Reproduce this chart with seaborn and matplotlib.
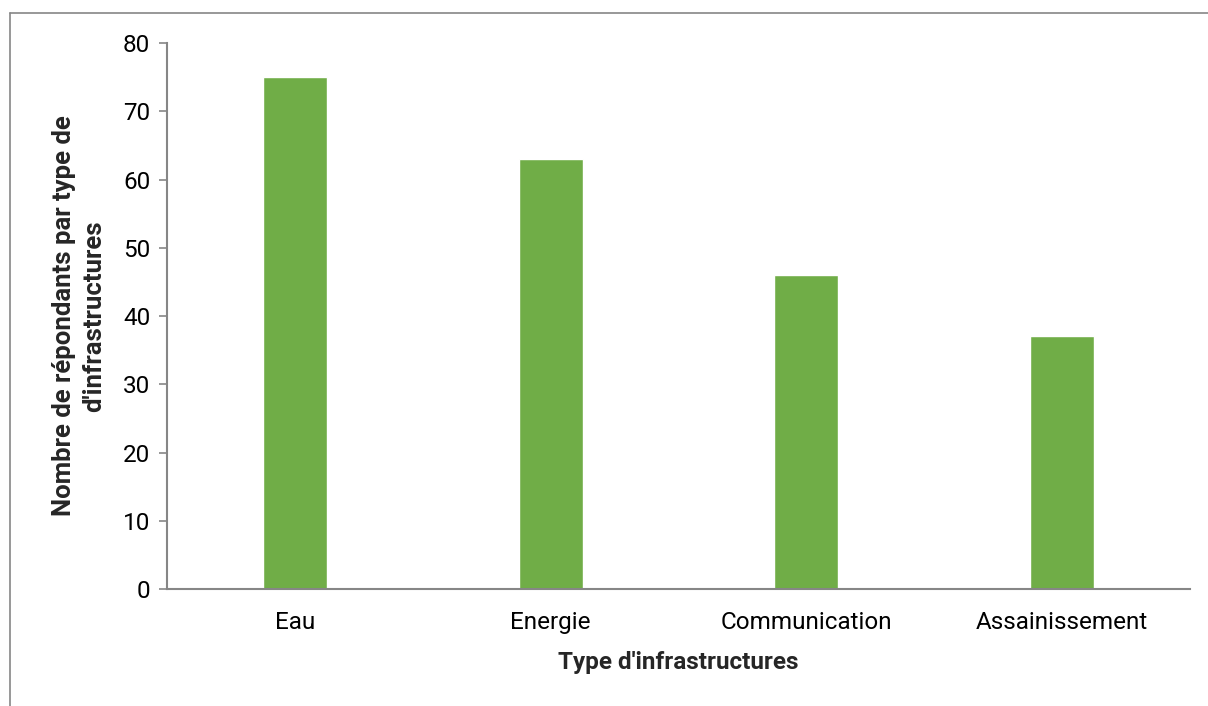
import pandas as pd
import seaborn as sns
import matplotlib.pyplot as plt
from matplotlib.lines import Line2D

# Données
categories = ['Eau', 'Energie', 'Communication', 'Assainissement']
repondants = [75, 63, 46, 37]

df = pd.DataFrame({'type': categories, 'n': repondants})

sns.set_theme(style="white")
plt.rcParams['font.family'] = ['Roboto', 'DejaVu Sans']

fig = plt.figure(figsize=(12.08, 7.06), dpi=100)
ax = fig.add_axes([0.1382, 0.1657, 0.8469, 0.7734])

sns.barplot(data=df, x='type', y='n', color='#70AD47', width=0.25,
            saturation=1, ax=ax)

gris = '#868686'
ax.set_ylim(0, 80)
ax.set_xlim(-0.5, len(categories) - 0.5)
ax.set_yticks(range(0, 81, 10))
for s in ['top', 'right']:
    ax.spines[s].set_visible(False)
for s in ['left', 'bottom']:
    ax.spines[s].set_color(gris)
    ax.spines[s].set_linewidth(1.5)
ax.tick_params(axis='y', left=True, length=6, width=1.2, color=gris,
               labelsize=17.5, pad=6, labelcolor='black')
ax.tick_params(axis='x', bottom=False, labelsize=17.5, pad=10, labelcolor='black')

ax.set_xlabel("Type d'infrastructures", fontsize=17.5, fontweight='bold', labelpad=12)
ax.set_ylabel("Nombre de répondants par type de\nd'infrastructures", fontsize=18.5,
              fontweight='bold', labelpad=12, linespacing=1.35)

# cadre extérieur
fig.add_artist(Line2D([0.0083, 1.0], [0.9816, 0.9816], color=gris, lw=1.2,
                      transform=fig.transFigure))
fig.add_artist(Line2D([0.0083, 0.0083], [0.0, 0.9816], color=gris, lw=1.2,
                      transform=fig.transFigure))

fig.savefig('out.png', dpi=100)
